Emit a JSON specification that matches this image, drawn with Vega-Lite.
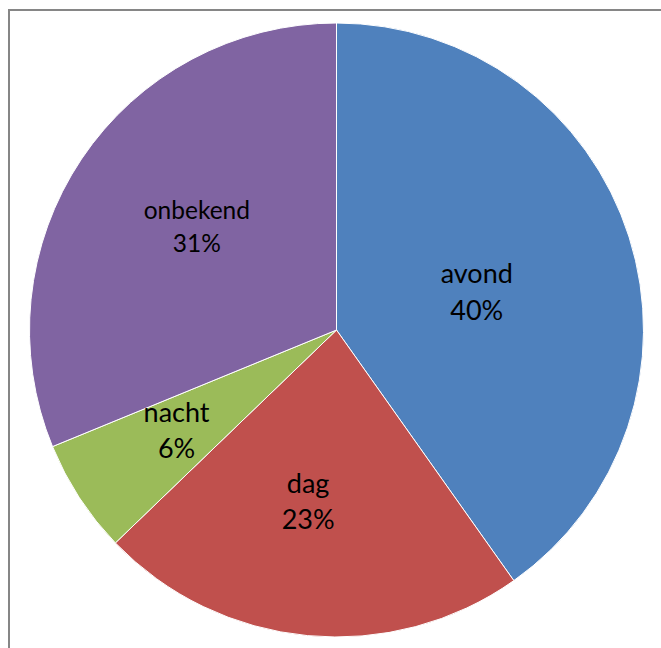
{
  "$schema": "https://vega.github.io/schema/vega-lite/v6.json",
  "width": 655,
  "height": 640,
  "autosize": {"type": "none"},
  "padding": {"left": 9, "top": 10, "right": -3, "bottom": -2},
  "background": "white",
  "config": {"view": {"stroke": "#868686", "strokeWidth": 2}},
  "data": {
    "values": [
      {"name": "avond", "value": 40.2, "label": "avond\n40%"},
      {"name": "dag", "value": 22.6, "label": "dag\n23%"},
      {"name": "nacht", "value": 6.0, "label": "nacht\n6%"},
      {"name": "onbekend", "value": 31.2, "label": "onbekend\n31%"}
    ]
  },
  "encoding": {
    "theta": {"field": "value", "type": "quantitative", "stack": true},
    "order": {"field": "name", "type": "nominal"}
  },
  "layer": [
    {
      "mark": {"type": "point", "opacity": 0},
      "encoding": {
        "x": {"field": "name", "type": "nominal", "axis": null},
        "theta": null,
        "order": null
      }
    },
    {
      "mark": {"type": "arc", "outerRadius": 307, "stroke": "white", "strokeWidth": 1},
      "encoding": {
        "color": {
          "field": "name",
          "type": "nominal",
          "scale": {
            "domain": ["avond", "dag", "nacht", "onbekend"],
            "range": ["#4F81BD", "#C0504D", "#9BBB59", "#8064A2"]
          },
          "legend": null
        }
      }
    },
    {
      "mark": {"type": "text", "radius": 144, "dx": 3, "dy": -11, "font": "Lato", "fontSize": 27, "lineBreak": "\n", "lineHeight": 37, "color": "black"},
      "encoding": {"text": {"condition": {"test": "datum.name === 'avond'", "field": "label"}, "value": ""}}
    },
    {
      "mark": {"type": "text", "radius": 174, "dx": -12, "dy": -18, "font": "Lato", "fontSize": 27, "lineBreak": "\n", "lineHeight": 36, "color": "black"},
      "encoding": {"text": {"condition": {"test": "datum.name === 'dag'", "field": "label"}, "value": ""}}
    },
    {
      "mark": {"type": "text", "radius": 191, "dy": -20, "font": "Lato", "fontSize": 27, "lineBreak": "\n", "lineHeight": 36, "color": "black"},
      "encoding": {"text": {"condition": {"test": "datum.name === 'nacht'", "field": "label"}, "value": ""}}
    },
    {
      "mark": {"type": "text", "radius": 173, "dx": 4, "dy": -22, "font": "Lato", "fontSize": 24.5, "lineBreak": "\n", "lineHeight": 33, "color": "black"},
      "encoding": {"text": {"condition": {"test": "datum.name === 'onbekend'", "field": "label"}, "value": ""}}
    }
  ]
}
